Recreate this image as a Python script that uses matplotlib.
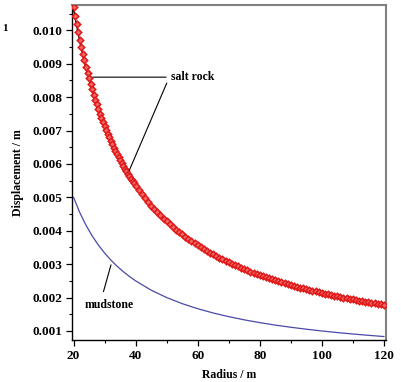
import matplotlib.pyplot as plt
from matplotlib.ticker import MultipleLocator, FormatStrFormatter

# salt rock, numerical points (red diamonds)
r_pts = [20, 20.5, 21, 21.5, 22, 22.5, 23, 23.5, 24, 24.5, 25, 25.5, 26, 26.5, 27, 27.5,
         28, 28.5, 29, 29.5, 30, 30.5, 31, 31.5, 32, 32.5, 33, 33.5, 34, 34.5, 35, 35.5,
         36, 36.5, 37, 37.5, 38, 38.5, 39, 39.5, 40,
         41, 42, 43, 44, 45, 46, 47, 48, 49, 50, 51, 52, 53, 54, 55, 56, 57, 58, 59, 60,
         61, 62, 63, 64, 65, 66, 67, 68, 69, 70, 71, 72, 73, 74, 75, 76, 77, 78, 79, 80,
         81, 82, 83, 84, 85, 86, 87, 88, 89, 90, 91, 92, 93, 94, 95, 96, 97, 98, 99, 100,
         101, 102, 103, 104, 105, 106, 107, 108, 109, 110, 111, 112, 113, 114, 115, 116,
         117, 118, 119, 120]
salt_pts = [0.010700, 0.010439, 0.010190, 0.009953, 0.009727, 0.009511, 0.009304, 0.009106,
            0.008917, 0.008735, 0.008560, 0.008392, 0.008231, 0.008075, 0.007926, 0.007782,
            0.007643, 0.007509, 0.007379, 0.007254, 0.007133, 0.007016, 0.006903, 0.006794,
            0.006688, 0.006585, 0.006485, 0.006388, 0.006294, 0.006203, 0.006114, 0.006028,
            0.005944, 0.005863, 0.005784, 0.005707, 0.005632, 0.005558, 0.005487, 0.005418,
            0.005350,
            0.005220, 0.005095, 0.004977, 0.004864, 0.004756, 0.004652, 0.004553, 0.004458,
            0.004367, 0.004280, 0.004196, 0.004115, 0.004038, 0.003963, 0.003891, 0.003821,
            0.003754, 0.003690, 0.003627, 0.003567, 0.003508, 0.003452, 0.003397, 0.003344,
            0.003292, 0.003242, 0.003194, 0.003147, 0.003101, 0.003057, 0.003014, 0.002972,
            0.002932, 0.002892, 0.002853, 0.002816, 0.002779, 0.002744, 0.002709, 0.002675,
            0.002642, 0.002610, 0.002578, 0.002548, 0.002518, 0.002488, 0.002460, 0.002432,
            0.002404, 0.002378, 0.002352, 0.002326, 0.002301, 0.002277, 0.002253, 0.002229,
            0.002206, 0.002184, 0.002162, 0.002140, 0.002119, 0.002098, 0.002078, 0.002058,
            0.002038, 0.002019, 0.002000, 0.001981, 0.001963, 0.001945, 0.001928, 0.001911,
            0.001894, 0.001877, 0.001861, 0.001845, 0.001829, 0.001814, 0.001798, 0.001783]

# curves (black = salt rock analytic, blue = mudstone)
r_line = [20, 22, 24, 26, 28, 30, 32, 34, 36, 38, 40, 45, 50, 55, 60, 65, 70, 75, 80,
          85, 90, 95, 100, 105, 110, 115, 120]
salt_line = [0.010625, 0.009659, 0.008854, 0.008173, 0.007589, 0.007083, 0.006641, 0.006250,
             0.005903, 0.005592, 0.005313, 0.004722, 0.004250, 0.003864, 0.003542, 0.003269,
             0.003036, 0.002833, 0.002656, 0.002500, 0.002361, 0.002237, 0.002125, 0.002024,
             0.001932, 0.001848, 0.001771]
mud_line = [0.005000, 0.004545, 0.004167, 0.003846, 0.003571, 0.003333, 0.003125, 0.002941,
            0.002778, 0.002632, 0.002500, 0.002222, 0.002000, 0.001818, 0.001667, 0.001538,
            0.001429, 0.001333, 0.001250, 0.001176, 0.001111, 0.001053, 0.001000, 0.000952,
            0.000909, 0.000870, 0.000833]

plt.rcParams['font.family'] = 'Liberation Serif'
plt.rcParams['font.weight'] = 'bold'

fig = plt.figure(figsize=(4.01, 3.82), dpi=100)
ax = fig.add_axes([0.1796, 0.110, 0.783, 0.876])

ax.plot(r_line, salt_line, c='k', lw=1.0, zorder=2)
ax.plot(r_pts, salt_pts, ls='none', marker='D', ms=3.3, mfc='#f06868', mec='#e01818',
        mew=1.1, zorder=3)
ax.plot(r_line, mud_line, c='#4a4aa8', lw=0.9, zorder=2)

ax.set_xlim(19.5, 120.7)
ax.set_ylim(0.00073, 0.01075)

ax.xaxis.set_major_locator(MultipleLocator(20))
ax.xaxis.set_minor_locator(MultipleLocator(10))
ax.yaxis.set_major_locator(MultipleLocator(0.001))
ax.yaxis.set_minor_locator(MultipleLocator(0.0005))
ax.yaxis.set_major_formatter(FormatStrFormatter('%.3f'))

ax.tick_params(which='major', direction='out', length=4, width=0.9, labelsize=9.5, pad=3)
ax.tick_params(which='minor', direction='out', length=2.5, width=0.8)
ax.tick_params(top=False, right=False)

for s in ['top', 'right']:
    ax.spines[s].set_color('#808080')
    ax.spines[s].set_linewidth(1.5)
for s in ['left', 'bottom']:
    ax.spines[s].set_color('k')
    ax.spines[s].set_linewidth(1.0)

ax.set_xlabel('Radius / m', fontsize=8.5, fontweight='bold', labelpad=5)
ax.set_ylabel('Displacement / m', fontsize=8.5, fontweight='bold', labelpad=6)

# annotations
ax.annotate('', xy=(25.3, 0.0086), xytext=(50.7, 0.0086),
            arrowprops=dict(arrowstyle='-', color='k', lw=0.8))
ax.annotate('', xy=(37.6, 0.00573), xytext=(50.4, 0.0085),
            arrowprops=dict(arrowstyle='-', color='k', lw=0.8))
ax.text(51.3, 0.0086, 'salt rock', fontsize=8.5, fontweight='bold', va='center', ha='left')

ax.annotate('', xy=(32.3, 0.00306), xytext=(29.4, 0.00210),
            arrowprops=dict(arrowstyle='-', color='k', lw=0.8))
ax.text(23.5, 0.00178, 'mudstone', fontsize=8.5, fontweight='bold', va='center', ha='left')

fig.text(0.005, 0.92, '1', fontsize=8, fontweight='bold')

fig.savefig('out.png', dpi=100)
